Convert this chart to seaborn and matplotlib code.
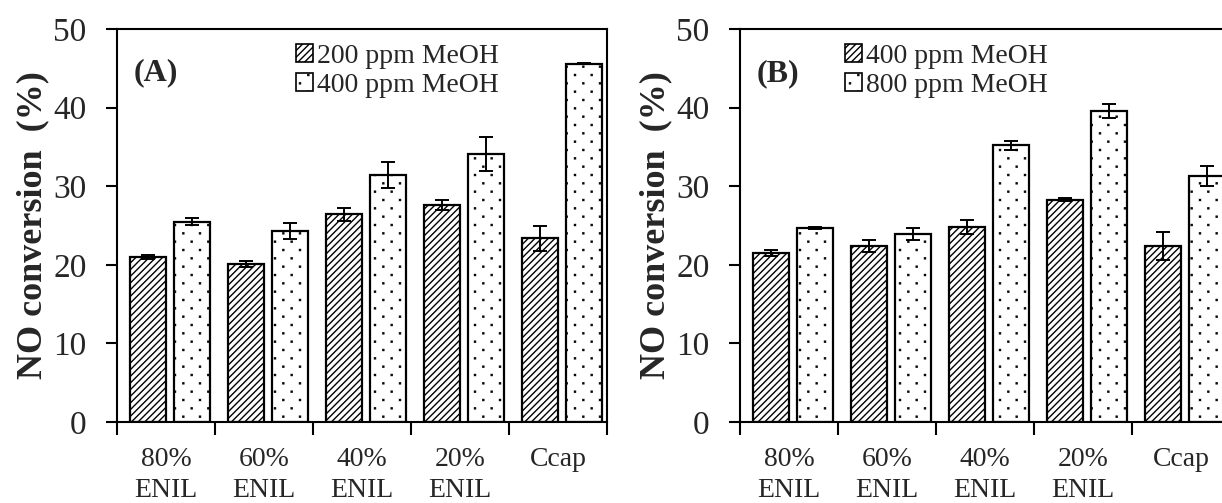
import numpy as np
import pandas as pd
import matplotlib
matplotlib.use("Agg")
import matplotlib.pyplot as plt
import matplotlib.hatch as mhatch
from matplotlib.path import Path
import seaborn as sns
from matplotlib.patches import Patch

categories = ["80%\nENIL", "60%\nENIL", "40%\nENIL", "20%\nENIL", "Ccap"]

a_series = ["200 ppm MeOH", "400 ppm MeOH"]
a_low = [21.0, 20.1, 26.4, 27.6, 23.4]
a_low_err = [0.25, 0.4, 0.85, 0.6, 1.6]
a_high = [25.5, 24.3, 31.4, 34.1, 45.6]
a_high_err = [0.4, 1.05, 1.65, 2.2, 0.1]

b_series = ["400 ppm MeOH", "800 ppm MeOH"]
b_low = [21.5, 22.4, 24.8, 28.3, 22.4]
b_low_err = [0.4, 0.8, 0.9, 0.2, 1.8]
b_high = [24.7, 23.9, 35.2, 39.6, 31.3]
b_high_err = [0.1, 0.8, 0.6, 0.9, 1.3]

yticks = [0, 10, 20, 30, 40, 50]


class StaggerDots(mhatch.HatchPatternBase):
    """Small square dots: staggered rows, rows twice as dense as columns."""

    def __init__(self, hatch, density):
        n = hatch.count('.')
        self.pts = []
        if n:
            cols = n * density
            rows = 2 * cols
            for r in range(rows + 1):
                y = r / rows
                if r % 2 == 0:
                    xs = np.arange(cols + 1) / cols
                else:
                    xs = (np.arange(cols) + 0.5) / cols
                for x in xs:
                    self.pts.append((x, y))
        self.num_vertices = len(self.pts) * 5

    def set_vertices_and_codes(self, vertices, codes):
        s = 0.005
        sq = np.array([[-s, -s], [s, -s], [s, s], [-s, s], [-s, -s]])
        cd = [Path.MOVETO, Path.LINETO, Path.LINETO, Path.LINETO, Path.CLOSEPOLY]
        for i, (x, y) in enumerate(self.pts):
            vertices[i * 5:(i + 1) * 5] = sq + [x, y]
            codes[i * 5:(i + 1) * 5] = cd


mhatch._hatch_types = [StaggerDots if c is mhatch.SmallFilledCircles else c
                       for c in mhatch._hatch_types]

sns.set_theme(style="white")
plt.rcParams["font.family"] = ["Liberation Serif", "DejaVu Serif"]
plt.rcParams["hatch.linewidth"] = 1.0
plt.rcParams["hatch.color"] = "black"

W, H = 1222, 503
fig = plt.figure(figsize=(W / 100, H / 100), dpi=100)

hatches = ["/////", "."]


def panel(rect, series, low, low_err, high, high_err, tag, leg_x, tag_xy):
    ax = fig.add_axes(rect)
    df = pd.DataFrame({
        "cat": categories * 2,
        "val": low + high,
        "conc": [series[0]] * 5 + [series[1]] * 5,
    })
    errs = [low_err, high_err]
    sns.barplot(data=df, x="cat", y="val", hue="conc", order=categories,
                hue_order=series, palette=["white", "white"], edgecolor="black",
                linewidth=1.6, width=0.9, gap=0.17, errorbar=None, legend=False,
                saturation=1, ax=ax)
    pts = {0: [], 1: []}
    for bar in ax.patches:
        cx = bar.get_x() + bar.get_width() / 2
        idx = 0 if cx < round(cx) else 1
        bar.set_hatch(hatches[idx])
        pts[idx].append((cx, bar.get_height()))
    for idx in (0, 1):
        p = sorted(pts[idx])
        xs = [q[0] for q in p]
        ys = [q[1] for q in p]
        ax.errorbar(xs, ys, yerr=errs[idx], fmt="none", ecolor="black",
                    elinewidth=1.4, capsize=5, capthick=1.4, zorder=5)
    off = 0.04
    ax.set_xlim(-0.5 - off, 4.5 - off)
    ax.set_ylim(0, 50)
    ax.set_yticks(yticks)
    ax.set_yticklabels([str(t) for t in yticks], fontsize=24)
    ax.set_xticks([k - 0.5 - off for k in range(6)])
    ax.set_xticklabels([""] * 6)
    ax.set_xticks([k - off for k in range(5)], minor=True)
    ax.set_xticklabels(categories, minor=True, fontsize=20, linespacing=1.33)
    ax.tick_params(axis="x", which="major", direction="out", length=9, width=1.5,
                   bottom=True, color="black")
    ax.tick_params(axis="x", which="minor", length=0, pad=18)
    ax.tick_params(axis="y", direction="out", length=8, width=1.5, left=True,
                   color="black", pad=14)
    ax.set_xlabel("")
    ax.set_ylabel("NO conversion  (%)", fontsize=26, fontweight="bold", labelpad=3)
    for s in ax.spines.values():
        s.set_color("black")
        s.set_linewidth(1.5)
    ax.text(tag_xy[0], tag_xy[1], tag, transform=ax.transAxes, fontsize=23,
            fontweight="bold", ha="left", va="center")
    handles = [Patch(facecolor="white", edgecolor="black", hatch=hatches[i],
                     linewidth=1.2, label=series[i]) for i in range(2)]
    ax.legend(handles=handles, loc="upper left", bbox_to_anchor=(leg_x, 0.962),
              frameon=False, fontsize=20, handlelength=0.6, handleheight=0.6,
              handletextpad=0.15, labelspacing=0.14, borderpad=0, borderaxespad=0)
    return ax


top, bottom = 29, 422
hgt = (bottom - top) / H
y0 = (H - bottom) / H
wdt = 490 / W
panel([117 / W, y0, wdt, hgt], a_series, a_low, a_low_err, a_high, a_high_err,
      "(A)", 0.365, (0.033, 0.89))
panel([740 / W, y0, wdt, hgt], b_series, b_low, b_low_err, b_high, b_high_err,
      "(B)", 0.215, (0.033, 0.885))

fig.savefig("out.png", dpi=100)
